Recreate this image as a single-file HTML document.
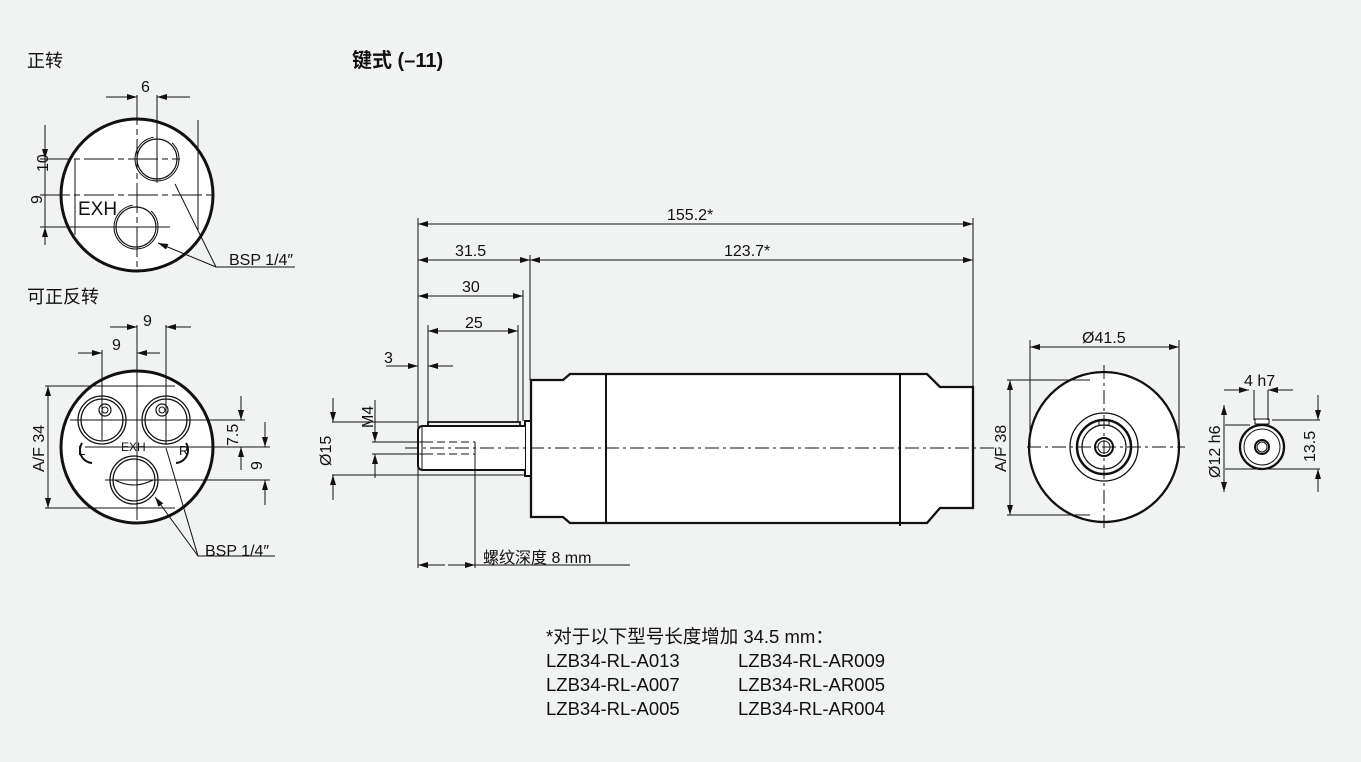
<!DOCTYPE html>
<html><head><meta charset="utf-8"><style>
html,body{margin:0;padding:0;background:#f1f2f2}
svg{display:block}
text{font-family:"Liberation Sans","Noto Sans CJK SC",sans-serif;fill:#111}
</style></head><body>
<svg width="1361" height="762" viewBox="0 0 1361 762" xmlns="http://www.w3.org/2000/svg">
<defs>
<marker id="a" viewBox="0 0 10 6" refX="10" refY="3" markerWidth="10" markerHeight="6" orient="auto-start-reverse" markerUnits="userSpaceOnUse"><path d="M0,0L10,3L0,6z" fill="#111"/></marker>
</defs>
<rect width="1361" height="762" fill="#f1f2f2"/>
<g font-size="18">
<text x="27" y="67">正转</text>
<text x="27" y="303">可正反转</text>
<text x="352" y="67" font-weight="bold" font-size="20">键式 (–11)</text>
</g>

<!-- top-left view -->
<g stroke="#111" fill="none">
<circle cx="137" cy="195" r="76" stroke-width="3" fill="#fff"/>
<circle cx="157" cy="159" r="20" stroke-width="1.2"/>
<circle cx="157" cy="159" r="22" stroke-width="1" stroke-dasharray="100 20"/>
<circle cx="136" cy="227" r="20" stroke-width="1.2"/>
<circle cx="136" cy="227" r="22" stroke-width="1" stroke-dasharray="100 20"/>
<g stroke-width="1">
<line x1="137" y1="95" x2="137" y2="272" stroke-dasharray="30 4 6 4"/>
<line x1="157" y1="95" x2="157" y2="183"/>
<line x1="40" y1="195" x2="215" y2="195" stroke-dasharray="30 4 6 4"/>
<line x1="40" y1="159" x2="180" y2="159" stroke-dasharray="30 4 6 4"/>
<line x1="40" y1="227" x2="170" y2="227"/>
<line x1="75" y1="159" x2="75" y2="235"/>
<line x1="198" y1="120" x2="198" y2="230"/>
<line x1="45" y1="125" x2="45" y2="245"/>
<line x1="106" y1="97" x2="137" y2="97" marker-end="url(#a)"/>
<line x1="190" y1="97" x2="157" y2="97" marker-end="url(#a)"/>
<line x1="45" y1="135" x2="45" y2="159" marker-end="url(#a)"/>
<line x1="45" y1="245" x2="45" y2="227" marker-end="url(#a)"/>
<polyline points="175,184 216,267 295,267"/>
<line x1="216" y1="267" x2="158" y2="243" marker-end="url(#a)"/>
</g>
</g>
<g font-size="16">
<text x="141" y="92">6</text>
<text x="40" y="180" transform="rotate(-90 40 172)">10</text>
<text x="40" y="214" transform="rotate(-90 36 208)">9</text>
<text x="78" y="215" font-size="19">EXH</text>
<text x="229" y="265">BSP 1/4″</text>
</g>

<!-- second left view -->
<g stroke="#111" fill="none">
<circle cx="137" cy="447" r="76" stroke-width="3" fill="#fff"/>
<circle cx="102" cy="420" r="21" stroke-width="1.3"/>
<circle cx="102" cy="420" r="24" stroke-width="1.3"/>
<circle cx="166" cy="420" r="21" stroke-width="1.3"/>
<circle cx="166" cy="420" r="24" stroke-width="1.3"/>
<circle cx="105" cy="410" r="6" stroke-width="1.2"/>
<circle cx="105" cy="410" r="3" stroke-width="1"/>
<circle cx="162" cy="410" r="6" stroke-width="1.2"/>
<circle cx="162" cy="410" r="3" stroke-width="1"/>
<circle cx="134" cy="480" r="21" stroke-width="1.3"/>
<circle cx="134" cy="480" r="24" stroke-width="1.3"/>
<path d="M115,480 Q134,490 153,480" stroke-width="1"/>
<path d="M82,443 A13,13 0 0 0 92,463" stroke-width="2"/>
<path d="M186,443 A13,13 0 0 1 176,463" stroke-width="2"/>
<g stroke-width="1">
<line x1="137" y1="325" x2="137" y2="520"/>
<line x1="166" y1="325" x2="166" y2="445"/>
<line x1="102" y1="350" x2="102" y2="440"/>
<line x1="45" y1="386" x2="175" y2="386"/>
<line x1="45" y1="508" x2="175" y2="508"/>
<line x1="70" y1="420" x2="245" y2="420"/>
<line x1="85" y1="447" x2="270" y2="447"/>
<line x1="105" y1="480" x2="270" y2="480"/>
<line x1="48" y1="386" x2="48" y2="508" marker-start="url(#a)" marker-end="url(#a)"/>
<line x1="110" y1="327" x2="137" y2="327" marker-end="url(#a)"/>
<line x1="191" y1="327" x2="166" y2="327" marker-end="url(#a)"/>
<line x1="78" y1="353" x2="102" y2="353" marker-end="url(#a)"/>
<line x1="160" y1="353" x2="137" y2="353" marker-end="url(#a)"/>
<line x1="241" y1="396" x2="241" y2="420" marker-end="url(#a)"/>
<line x1="241" y1="470" x2="241" y2="447" marker-end="url(#a)"/>
<line x1="265" y1="422" x2="265" y2="447" marker-end="url(#a)"/>
<line x1="265" y1="505" x2="265" y2="480" marker-end="url(#a)"/>
<polyline points="166,448 198,556 275,556"/>
<line x1="198" y1="556" x2="155" y2="497" marker-end="url(#a)"/>
</g>
</g>
<g font-size="16">
<text x="143" y="326">9</text>
<text x="112" y="350">9</text>
<text x="44" y="472" transform="rotate(-90 44 472)">A/F 34</text>
<text x="238" y="446" transform="rotate(-90 238 446)">7.5</text>
<text x="262" y="470" transform="rotate(-90 262 470)">9</text>
<text x="121" y="451" font-size="12">EXH</text>
<text x="78" y="455" font-size="13">L</text>
<text x="179" y="455" font-size="13">R</text>
<text x="205" y="556">BSP 1/4″</text>
</g>

<!-- side view -->
<g stroke="#111" fill="none">
<path d="M531,380 L563,380 L570,374 L927,374 L940,387 L973,387 L973,508 L940,508 L927,523 L570,523 L563,517 L531,517 Z" fill="#fff" stroke-width="2.3"/>
<line x1="606" y1="374" x2="606" y2="523" stroke-width="2"/>
<line x1="900" y1="374" x2="900" y2="526" stroke-width="2"/>
<rect x="525" y="421" width="6" height="55" fill="#fff" stroke-width="2"/>
<path d="M525,426 L423,426 Q418,426 418,431 L418,465 Q418,470 423,470 L525,470" fill="#fff" stroke-width="2"/>
<path d="M428,426 L428,422 L520,422 L520,426" stroke-width="1.8"/>
<line x1="422" y1="427" x2="422" y2="469" stroke-width="1"/>
<g stroke-width="1">
<line x1="425" y1="442" x2="475" y2="442" stroke-dasharray="8 4"/>
<line x1="425" y1="454" x2="475" y2="454" stroke-dasharray="8 4"/>
<line x1="475" y1="442" x2="475" y2="568"/>
<line x1="405" y1="448" x2="1000" y2="448" stroke-dasharray="14 4 3 4"/>
<line x1="418" y1="218" x2="418" y2="568"/>
<line x1="973" y1="218" x2="973" y2="387"/>
<line x1="530" y1="255" x2="530" y2="380"/>
<line x1="523" y1="290" x2="523" y2="421"/>
<line x1="428" y1="325" x2="428" y2="422"/>
<line x1="518" y1="325" x2="518" y2="422"/>
<line x1="418" y1="224" x2="973" y2="224" marker-start="url(#a)" marker-end="url(#a)"/>
<line x1="418" y1="260" x2="530" y2="260" marker-start="url(#a)" marker-end="url(#a)"/>
<line x1="530" y1="260" x2="973" y2="260" marker-start="url(#a)" marker-end="url(#a)"/>
<line x1="418" y1="296" x2="523" y2="296" marker-start="url(#a)" marker-end="url(#a)"/>
<line x1="428" y1="331" x2="518" y2="331" marker-start="url(#a)" marker-end="url(#a)"/>
<line x1="386" y1="366" x2="418" y2="366" marker-end="url(#a)"/>
<line x1="453" y1="366" x2="428" y2="366" marker-end="url(#a)"/>
<line x1="332" y1="422" x2="418" y2="422"/>
<line x1="332" y1="475" x2="525" y2="475"/>
<line x1="372" y1="442" x2="425" y2="442"/>
<line x1="372" y1="454" x2="425" y2="454"/>
<line x1="333" y1="398" x2="333" y2="422" marker-end="url(#a)"/>
<line x1="333" y1="500" x2="333" y2="475" marker-end="url(#a)"/>
<line x1="375" y1="400" x2="375" y2="442" marker-end="url(#a)"/>
<line x1="375" y1="478" x2="375" y2="454" marker-end="url(#a)"/>
<line x1="418" y1="565" x2="445" y2="565" marker-start="url(#a)"/>
<line x1="448" y1="565" x2="475" y2="565" marker-end="url(#a)"/>
<line x1="475" y1="565" x2="630" y2="565"/>
</g>
</g>
<g font-size="16">
<text x="667" y="220">155.2*</text>
<text x="455" y="256">31.5</text>
<text x="724" y="256">123.7*</text>
<text x="462" y="292">30</text>
<text x="465" y="328">25</text>
<text x="384" y="363">3</text>
<text x="331" y="466" transform="rotate(-90 331 466)">Ø15</text>
<text x="373" y="428" transform="rotate(-90 373 428)">M4</text>
<text x="483" y="563">螺纹深度 8 mm</text>
</g>

<!-- end view -->
<g stroke="#111" fill="none">
<circle cx="1104" cy="447" r="75" stroke-width="2.3" fill="#fff"/>
<circle cx="1104" cy="447" r="34" stroke-width="1.3"/>
<circle cx="1104" cy="447" r="27" stroke-width="2.5"/>
<circle cx="1104" cy="447" r="22" stroke-width="1.2"/>
<circle cx="1104" cy="447" r="9" stroke-width="2"/>
<circle cx="1104" cy="447" r="6" stroke-width="1"/>
<rect x="1099" y="420" width="10" height="5" stroke-width="1"/>
<circle cx="1262" cy="447" r="22" stroke-width="2.3" fill="#fff"/>
<circle cx="1262" cy="447" r="18" stroke-width="1"/>
<circle cx="1262" cy="447" r="7" stroke-width="2"/>
<circle cx="1262" cy="447" r="5" stroke-width="1"/>
<rect x="1255" y="419" width="14" height="5" stroke-width="1" fill="#fff"/>
<g stroke-width="1">
<line x1="1104" y1="365" x2="1104" y2="528" stroke-dasharray="14 4 3 4"/>
<line x1="1027" y1="447" x2="1185" y2="447" stroke-dasharray="14 4 3 4"/>
<line x1="1030" y1="340" x2="1030" y2="447"/>
<line x1="1179" y1="340" x2="1179" y2="447"/>
<line x1="1030" y1="347" x2="1179" y2="347" marker-start="url(#a)" marker-end="url(#a)"/>
<line x1="1007" y1="380" x2="1090" y2="380"/>
<line x1="1007" y1="515" x2="1090" y2="515"/>
<line x1="1010" y1="380" x2="1010" y2="515" marker-start="url(#a)" marker-end="url(#a)"/>
<line x1="1224" y1="390" x2="1249" y2="390" marker-end="url(#a)"/>
<line x1="1293" y1="390" x2="1268" y2="390" marker-end="url(#a)"/>
<line x1="1254" y1="390" x2="1254" y2="420"/>
<line x1="1268" y1="390" x2="1268" y2="420"/>
<line x1="1225" y1="425" x2="1250" y2="425"/>
<line x1="1225" y1="469" x2="1320" y2="469"/>
<line x1="1272" y1="420" x2="1320" y2="420"/>
<line x1="1224" y1="405" x2="1224" y2="492" marker-start="url(#a)" marker-end="url(#a)"/>
<line x1="1318" y1="395" x2="1318" y2="420" marker-end="url(#a)"/>
<line x1="1318" y1="492" x2="1318" y2="469" marker-end="url(#a)"/>
</g>
</g>
<g font-size="16">
<text x="1082" y="343">Ø41.5</text>
<text x="1006" y="472" transform="rotate(-90 1006 472)">A/F 38</text>
<text x="1244" y="386">4 h7</text>
<text x="1220" y="478" transform="rotate(-90 1220 478)">Ø12 h6</text>
<text x="1315" y="462" transform="rotate(-90 1315 462)">13.5</text>
</g>

<g font-size="18.5">
<text x="546" y="643">*对于以下型号长度增加 34.5 mm：</text>
<text x="546" y="667">LZB34-RL-A013</text>
<text x="546" y="691">LZB34-RL-A007</text>
<text x="546" y="715">LZB34-RL-A005</text>
<text x="738" y="667">LZB34-RL-AR009</text>
<text x="738" y="691">LZB34-RL-AR005</text>
<text x="738" y="715">LZB34-RL-AR004</text>
</g>
</svg>
</body></html>
